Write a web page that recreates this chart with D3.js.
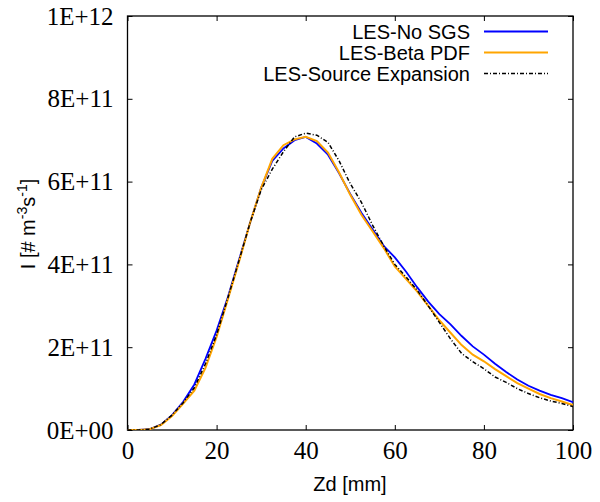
<!DOCTYPE html>
<html><head><meta charset="utf-8">
<script src="https://cdn.jsdelivr.net/npm/d3@7"></script>
<style>body{margin:0;background:#fff}</style>
</head><body>
<svg id="c" width="600" height="502"></svg>
<script>
// Zd [mm]
const zd = [0,2.5,5,7.5,10,12.5,15,17.5,20,22.5,25,27.5,30,32.5,35,37.5,40,42.5,45,47.5,50,52.5,55,57.5,60,62.5,65,67.5,70,72.5,75,77.5,80,82.5,85,87.5,90,92.5,95,97.5,100];
// I in units of 1E11 [# m^-3 s^-1]
const noSGS   = [0,0,0.02,0.13,0.36,0.68,1.1,1.72,2.4,3.2,4.1,5.0,5.85,6.5,6.8,7.0,7.08,6.92,6.65,6.2,5.7,5.25,4.85,4.45,4.17,3.83,3.45,3.1,2.8,2.55,2.27,2.02,1.82,1.6,1.4,1.22,1.07,0.95,0.85,0.77,0.67];
const betaPDF = [0,0,0.02,0.12,0.34,0.64,0.95,1.5,2.25,3.15,4.05,5.0,5.85,6.55,6.88,7.02,7.08,6.98,6.7,6.22,5.68,5.2,4.8,4.4,3.95,3.65,3.35,3.0,2.65,2.35,2.05,1.82,1.66,1.47,1.3,1.13,1.0,0.87,0.77,0.69,0.6];
const srcExp  = [0,0,0.02,0.13,0.36,0.66,1.02,1.6,2.3,3.18,4.08,5.0,5.8,6.3,6.72,7.08,7.17,7.12,6.95,6.5,5.95,5.5,4.95,4.45,4.0,3.7,3.38,3.0,2.6,2.2,1.85,1.65,1.48,1.28,1.15,1.0,0.88,0.78,0.7,0.64,0.57];
const seriesNames = ["LES-No SGS","LES-Beta PDF","LES-Source Expansion"];
const xTicks = [0,20,40,60,80,100];
const yTicks = [0,2,4,6,8,10];
const yTickLabels = ["0E+00","2E+11","4E+11","6E+11","8E+11","1E+12"];

const svg = d3.select("#c");
const L = 127.5, R = 573, T = 16, B = 430;
const x = d3.scaleLinear().domain([0,100]).range([L,R]);
const y = d3.scaleLinear().domain([0,10]).range([B,T]);

const serif = "'Liberation Serif','Times New Roman',serif";
const sans = "'Liberation Sans',Arial,Helvetica,sans-serif";

function styleAxis(g, showText){
  g.select(".domain").remove();
  g.attr("font-family", serif).attr("font-size", 25);
  g.selectAll(".tick line").attr("stroke","#000").attr("stroke-width",1);
  g.selectAll(".tick text").attr("fill","#000");
  if(!showText) g.selectAll(".tick text").remove();
}
// left
svg.append("g").attr("transform",`translate(${L},0)`)
  .call(d3.axisLeft(y).tickValues(yTicks).tickSize(-5).tickPadding(14)
    .tickFormat((d,i)=>yTickLabels[i]))
  .call(g=>styleAxis(g,true));
// right
svg.append("g").attr("transform",`translate(${R},0)`)
  .call(d3.axisRight(y).tickValues(yTicks).tickSize(-5))
  .call(g=>styleAxis(g,false));
// bottom
svg.append("g").attr("transform",`translate(0,${B})`)
  .call(d3.axisBottom(x).tickValues(xTicks).tickSize(-5).tickPadding(11)
    .tickFormat(d3.format("d")))
  .call(g=>styleAxis(g,true));
// top
svg.append("g").attr("transform",`translate(0,${T})`)
  .call(d3.axisTop(x).tickValues(xTicks).tickSize(-5))
  .call(g=>styleAxis(g,false));

// frame
svg.append("rect").attr("x",L).attr("y",T).attr("width",R-L).attr("height",B-T)
  .attr("fill","none").attr("stroke","#000").attr("stroke-width",1.3);

// lines
const styles = [
  {data:noSGS, color:"#0000ff", w:1.8, dash:null},
  {data:betaPDF, color:"#ffa500", w:2, dash:null},
  {data:srcExp, color:"#000000", w:1.5, dash:"4,2,1,2"}
];
const line = d3.line().x((d,i)=>x(zd[i])).y(d=>y(d));
const clip = svg.append("clipPath").attr("id","pc").append("rect")
  .attr("x",L).attr("y",T).attr("width",R-L).attr("height",B-T);
styles.forEach(s=>{
  svg.append("path").attr("d",line(s.data)).attr("fill","none")
    .attr("stroke",s.color).attr("stroke-width",s.w)
    .attr("stroke-dasharray",s.dash).attr("clip-path","url(#pc)");
});

// legend
styles.forEach((s,i)=>{
  const ly = 31.5 + i*21;
  svg.append("text").attr("x",470).attr("y",ly).attr("dy","0.35em")
    .attr("text-anchor","end").attr("font-family",sans).attr("font-size",20)
    .attr("fill","#000").text(seriesNames[i]);
  svg.append("line").attr("x1",484).attr("x2",548).attr("y1",ly).attr("y2",ly)
    .attr("stroke",s.color).attr("stroke-width",s.w).attr("stroke-dasharray",s.dash);
});

// x label
svg.append("text").attr("x",350).attr("y",491).attr("text-anchor","middle")
  .attr("font-family",sans).attr("font-size",20).attr("fill","#000").text("Zd [mm]");

// y label
const yl = svg.append("text").attr("transform","translate(35,224) rotate(-90)")
  .attr("text-anchor","middle").attr("font-family",sans).attr("font-size",20).attr("fill","#000");
yl.append("tspan").text("I [# m");
yl.append("tspan").attr("font-size",14).attr("dy",-8).text("-3");
yl.append("tspan").attr("dy",8).text("s");
yl.append("tspan").attr("font-size",14).attr("dy",-8).text("-1");
yl.append("tspan").attr("dy",8).text("]");
</script>
</body></html>
